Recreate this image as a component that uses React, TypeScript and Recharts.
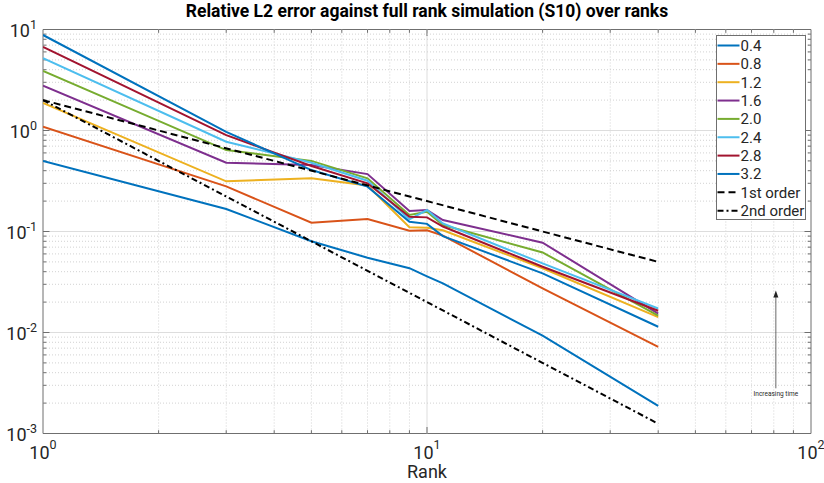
import { LineChart, Line, XAxis, YAxis, ReferenceLine, ReferenceArea, Legend } from "recharts"

// rank values where the error was sampled
const ranks = [1, 3, 5, 7, 9, 10, 11, 20, 40]

// relative L2 error per time
const err04 = [0.5, 0.167, 0.08, 0.055, 0.0433, 0.036, 0.0306, 0.0093, 0.00188]
const err08 = [1.09, 0.28, 0.122, 0.133, 0.102, 0.103, 0.091, 0.0274, 0.0072]
const err12 = [1.88, 0.314, 0.336, 0.285, 0.11, 0.109, 0.103, 0.0433, 0.0142]
const err16 = [2.78, 0.48, 0.455, 0.37, 0.16, 0.163, 0.13, 0.0775, 0.0154]
const err20 = [3.88, 0.64, 0.5, 0.336, 0.146, 0.157, 0.116, 0.062, 0.0147]
const err24 = [5.19, 0.775, 0.48, 0.318, 0.132, 0.163, 0.12, 0.0484, 0.0173]
const err28 = [6.71, 0.9, 0.445, 0.3, 0.14, 0.138, 0.112, 0.0448, 0.0164]
const err32 = [8.82, 0.97, 0.406, 0.278, 0.125, 0.119, 0.09, 0.0385, 0.0114]

// reference slopes, only end points
const orderRanks = [1, 40]
const firstOrder = [2, 0.05]
const secondOrder = [2, 0.00125]

const seriesNames = ["0.4", "0.8", "1.2", "1.6", "2.0", "2.4", "2.8", "3.2"]
const seriesValues = [err04, err08, err12, err16, err20, err24, err28, err32]
const COLORS = ["#0072BD", "#D95319", "#EDB120", "#7E2F8E", "#77AC30", "#4DBEEE", "#A2142F", "#0072BD"]

const xTicks = [1, 10, 100]
const yTicks = [0.001, 0.01, 0.1, 1, 10]
const xInner = [2, 3, 4, 5, 6, 7, 8, 9, 10, 20, 30, 40, 50, 60, 70, 80, 90]
const yInner = [
  0.002, 0.003, 0.004, 0.005, 0.006, 0.007, 0.008, 0.009, 0.01,
  0.02, 0.03, 0.04, 0.05, 0.06, 0.07, 0.08, 0.09, 0.1,
  0.2, 0.3, 0.4, 0.5, 0.6, 0.7, 0.8, 0.9, 1,
  2, 3, 4, 5, 6, 7, 8, 9,
]

// annotation arrow, in data units
const arrowX = 81
const arrowFrom = 0.0028
const arrowTo = 0.026

const data = ranks.map((r, i) => {
  const row: Record<string, number | null> = { rank: r }
  seriesValues.forEach((vals, k) => {
    row["s" + k] = vals[i]
  })
  const oi = orderRanks.indexOf(r)
  row.o1 = oi >= 0 ? firstOrder[oi] : null
  row.o2 = oi >= 0 ? secondOrder[oi] : null
  return row
})

const FONT = "Roboto, 'DejaVu Sans', sans-serif"
const TXT = "#262626"
const AXIS = "#6f6f6f"
const isMajor = (v: number) => Math.abs(Math.log10(v) - Math.round(Math.log10(v))) < 1e-6

function renderXTick(props: any) {
  const { x, y, payload } = props
  const e = Math.round(Math.log10(payload.value))
  return (
    <text x={x} y={y + 25} textAnchor="middle" fontSize={18} fill={TXT} fontFamily={FONT}>
      <tspan>10</tspan>
      <tspan dy={-9.5} fontSize={12.5}>{e}</tspan>
    </text>
  )
}

function renderYTick(props: any) {
  const { x, y, payload } = props
  const e = Math.round(Math.log10(payload.value))
  return (
    <text x={x - 6} y={y + 7.5} textAnchor="end" fontSize={18} fill={TXT} fontFamily={FONT}>
      <tspan>10</tspan>
      <tspan dy={-8.5} fontSize={12.5}>{e}</tspan>
    </text>
  )
}

function vGrid(major: boolean) {
  return (p: any) => {
    const top = Math.min(p.y1, p.y2)
    const bot = Math.max(p.y1, p.y2)
    const len = major ? 6.5 : 3.3
    return (
      <g>
        <line x1={p.x1} x2={p.x1} y1={top} y2={bot} stroke={major ? "#dddddd" : "#d2d2d2"}
          strokeDasharray={major ? undefined : "1 2"} strokeWidth={1} />
        <line x1={p.x1} x2={p.x1} y1={top} y2={top + len} stroke={AXIS} />
        <line x1={p.x1} x2={p.x1} y1={bot} y2={bot - len} stroke={AXIS} />
      </g>
    )
  }
}

function hGrid(major: boolean) {
  return (p: any) => {
    const l = Math.min(p.x1, p.x2)
    const r = Math.max(p.x1, p.x2)
    const len = major ? 6.5 : 3.3
    return (
      <g>
        <line x1={l} x2={r} y1={p.y1} y2={p.y1} stroke={major ? "#dddddd" : "#d2d2d2"}
          strokeDasharray={major ? undefined : "1 2"} strokeWidth={1} />
        <line x1={l} x2={l + len} y1={p.y1} y2={p.y1} stroke={AXIS} />
        <line x1={r} x2={r - len} y1={p.y1} y2={p.y1} stroke={AXIS} />
      </g>
    )
  }
}

function ArrowShape(p: any) {
  const x = p.x1
  const tip = Math.min(p.y1, p.y2)
  const base = Math.max(p.y1, p.y2)
  return (
    <g>
      <line x1={x} x2={x} y1={tip + 5} y2={base} stroke="#444" strokeWidth={0.8} />
      <path d={`M${x},${tip} L${x - 2.5},${tip + 7} L${x + 2.5},${tip + 7} Z`} fill="#222" />
      <text x={x} y={base + 7.5} textAnchor="middle" fontSize={6.5} fill={TXT} fontFamily={FONT}>
        Increasing time
      </text>
    </g>
  )
}

const legendItems = [
  ...seriesNames.map((n, k) => ({ name: n, color: COLORS[k], dash: undefined as string | undefined })),
  { name: "1st order", color: "#000", dash: "7 4" },
  { name: "2nd order", color: "#000", dash: "6 3 2 3" },
]

function LegendBox() {
  return (
    <svg width={90} height={185} style={{ display: "block" }}>
      <rect x={0.5} y={0.5} width={89} height={184} fill="#fff" stroke={AXIS} />
      {legendItems.map((it, i) => {
        const cy = 10.5 + i * 18.35
        return (
          <g key={it.name}>
            <line x1={1.5} x2={23.5} y1={cy} y2={cy} stroke={it.color} strokeWidth={2} strokeDasharray={it.dash} />
            <text x={24.5} y={cy + 5.3} fontSize={15} fill={TXT} fontFamily={FONT}>{it.name}</text>
          </g>
        )
      })}
    </svg>
  )
}

export default function App() {
  return (
    <div style={{ position: "absolute", left: 0, top: 0, width: 824, height: 483, background: "#fff" }}>
      <LineChart width={824} height={483} data={data}
        margin={{ top: 29.5, right: 13, bottom: 19.5, left: 13 }}>
        {xInner.map((v) => (
          <ReferenceLine key={"gx" + v} x={v} ifOverflow="visible" shape={vGrid(isMajor(v))} />
        ))}
        {yInner.map((v) => (
          <ReferenceLine key={"gy" + v} y={v} ifOverflow="visible" shape={hGrid(isMajor(v))} />
        ))}
        <XAxis dataKey="rank" type="number" scale="log" domain={[1, 100]} allowDataOverflow
          ticks={xTicks} interval={0} height={30} tickSize={0} tickMargin={0}
          tickLine={false} axisLine={false} tick={renderXTick} />
        <YAxis type="number" scale="log" domain={[0.001, 10]} allowDataOverflow
          ticks={yTicks} interval={0} width={30} tickSize={0} tickMargin={0}
          tickLine={false} axisLine={false} tick={renderYTick} />
        <ReferenceArea x1={1} x2={100} y1={0.001} y2={10} ifOverflow="visible"
          fill="none" stroke={AXIS} strokeWidth={1} />
        {seriesNames.map((n, k) => (
          <Line key={n} dataKey={"s" + k} name={n} type="linear" stroke={COLORS[k]}
            strokeWidth={2} dot={false} activeDot={false} isAnimationActive={false} />
        ))}
        <Line dataKey="o1" name="1st order" type="linear" stroke="#000" strokeWidth={2}
          strokeDasharray="7 4" dot={false} connectNulls isAnimationActive={false} />
        <Line dataKey="o2" name="2nd order" type="linear" stroke="#000" strokeWidth={2}
          strokeDasharray="6 3 2 3" dot={false} connectNulls isAnimationActive={false} />
        <ReferenceLine ifOverflow="visible"
          segment={[{ x: arrowX, y: arrowFrom }, { x: arrowX, y: arrowTo }]}
          shape={ArrowShape} />
        <Legend layout="vertical" align="center" verticalAlign="middle"
          wrapperStyle={{ position: "absolute", left: 716, top: 35, width: 90, height: 185 }}
          content={() => <LegendBox />} />
        <text x={427} y={17} textAnchor="middle" fontSize={17.5} fontWeight="bold" fill="#000" fontFamily={FONT}>
          Relative L2 error against full rank simulation (S10) over ranks
        </text>
        <text x={427} y={478} textAnchor="middle" fontSize={18} fill={TXT} fontFamily={FONT}>
          Rank
        </text>
      </LineChart>
    </div>
  )
}
